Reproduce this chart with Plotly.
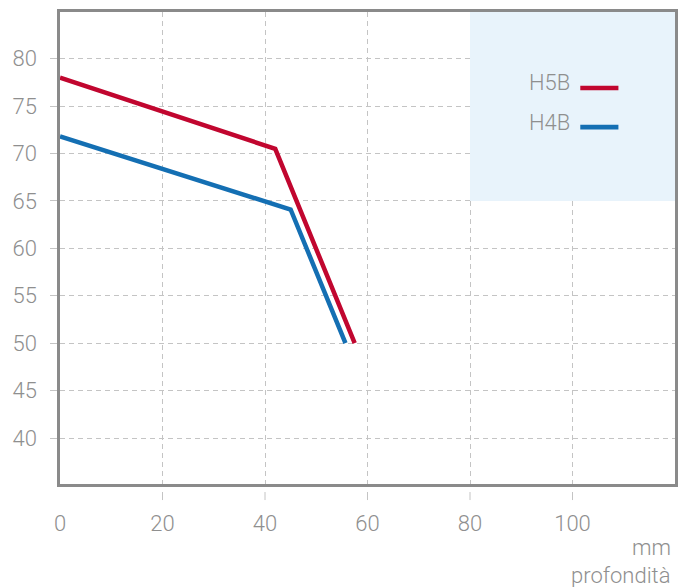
import plotly.graph_objects as go

# Data
h5b_x = [0, 42, 57.5]
h5b_y = [78, 70.5, 50]
h4b_x = [0, 45, 55.7]
h4b_y = [71.8, 64.1, 50]

x_ticks = [0, 20, 40, 60, 80, 100]
y_ticks = [40, 45, 50, 55, 60, 65, 70, 75, 80]

RED = "#c1062f"
BLUE = "#146fb3"
GRAY_TXT = "#8f8f8f"
FRAME = "#8a8a8a"
GRID = "#c4c4c4"
FONT = "Roboto, Lato, sans-serif"
FS = 22

fig = go.Figure()
fig.add_trace(go.Scatter(x=h5b_x, y=h5b_y, mode="lines", name="H5B",
                         line=dict(color=RED, width=4.5)))
fig.add_trace(go.Scatter(x=h4b_x, y=h4b_y, mode="lines", name="H4B",
                         line=dict(color=BLUE, width=4.5)))

# shaded region behind legend
fig.add_shape(type="rect", xref="x", yref="y", x0=80, x1=120, y0=65, y1=84.93,
              fillcolor="#e8f3fb", line=dict(width=0), layer="between")

# x tick dashes below the frame
for t in x_ticks[1:]:
    fig.add_shape(type="line", xref="x", yref="paper", x0=t, x1=t,
                  y0=-0.017, y1=-0.034, line=dict(color=GRID, width=1))

# legend (text left, swatch right)
leg = [("H5B", RED, 0.850, 0.839), ("H4B", BLUE, 0.765, 0.756)]
for name, col, ty, ly in leg:
    fig.add_annotation(text=name, xref="paper", yref="paper", x=0.832, y=ty,
                       xanchor="right", yanchor="middle", showarrow=False,
                       font=dict(family=FONT, size=FS, color=GRAY_TXT, weight=300))
    fig.add_shape(type="line", xref="paper", yref="paper", x0=0.846, x1=0.908,
                  y0=ly, y1=ly, line=dict(color=col, width=4.7))

fig.add_annotation(text="mm", xref="paper", yref="paper", x=0.9968, y=-0.134,
                   xanchor="right", yanchor="middle", showarrow=False,
                   font=dict(family=FONT, size=FS, color=GRAY_TXT, weight=300))
fig.add_annotation(text="profondità", xref="paper", yref="paper", x=0.9968, y=-0.193,
                   xanchor="right", yanchor="middle", showarrow=False,
                   font=dict(family=FONT, size=FS, color=GRAY_TXT, weight=300))

fig.update_layout(
    width=681, height=587,
    margin=dict(l=60, r=3, t=12, b=103),
    paper_bgcolor="white", plot_bgcolor="white",
    showlegend=False,
    font=dict(family=FONT, size=FS, color=GRAY_TXT, weight=300),
)
fig.update_xaxes(range=[0, 120], tickvals=x_ticks, ticktext=[str(v) for v in x_ticks],
                 showgrid=True, gridcolor=GRID, gridwidth=1, griddash="5px,4px",
                 showline=True, linecolor=FRAME, linewidth=2.5, mirror=True,
                 ticks="", ticklabelstandoff=18, zeroline=False,
                 tickfont=dict(family=FONT, size=FS, color=GRAY_TXT, weight=300))
fig.update_yaxes(range=[35.15, 84.93], tickvals=y_ticks, ticktext=[str(v) for v in y_ticks],
                 showgrid=True, gridcolor=GRID, gridwidth=1, griddash="5px,4px",
                 showline=True, linecolor=FRAME, linewidth=2.5, mirror=True,
                 ticks="outside", ticklen=7, tickcolor=GRID, tickwidth=1,
                 ticklabelstandoff=9, zeroline=False,
                 tickfont=dict(family=FONT, size=FS, color=GRAY_TXT, weight=300))

fig.write_html("out.html",
               config={"displayModeBar": False},
               post_script="document.body.style.margin='0';document.body.style.overflow='hidden';")
